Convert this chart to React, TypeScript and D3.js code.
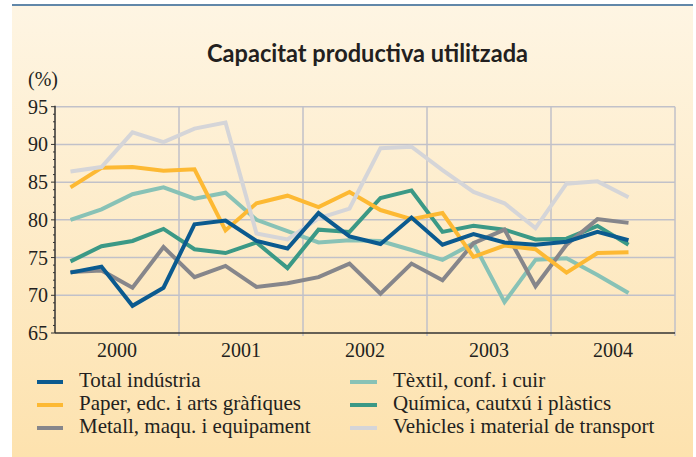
import { useMemo } from 'react'
import { scaleLinear, line } from 'd3'

// quarterly data 2000Q1 .. 2004Q3
const years = ['2000', '2001', '2002', '2003', '2004']
const yTicks = [65, 70, 75, 80, 85, 90, 95]

const total = [73.0, 73.8, 68.6, 71.0, 79.4, 79.9, 77.2, 76.2, 80.9, 77.8, 76.8, 80.3, 76.7, 78.1, 77.0, 76.7, 77.1, 78.4, 77.3]
const paper = [84.3, 86.9, 87.0, 86.5, 86.7, 78.6, 82.2, 83.2, 81.7, 83.7, 81.3, 80.1, 80.9, 75.1, 76.6, 76.1, 73.0, 75.6, 75.7]
const metall = [73.1, 73.3, 71.0, 76.4, 72.4, 73.9, 71.1, 71.6, 72.4, 74.2, 70.2, 74.2, 72.0, 76.9, 78.7, 71.2, 76.7, 80.1, 79.6]
const textil = [80.0, 81.4, 83.4, 84.3, 82.8, 83.6, 80.0, 78.5, 77.0, 77.3, 77.2, 76.0, 74.7, 76.9, 69.1, 74.7, 74.9, 72.7, 70.3]
const quimica = [74.5, 76.5, 77.2, 78.8, 76.1, 75.6, 77.0, 73.6, 78.7, 78.4, 82.9, 83.9, 78.4, 79.2, 78.7, 77.4, 77.5, 79.2, 76.7]
const vehicles = [86.4, 87.0, 91.6, 90.3, 92.1, 92.9, 78.2, 77.4, 80.2, 81.5, 89.5, 89.7, 86.6, 83.7, 82.2, 78.9, 84.8, 85.1, 83.0]

const series = [
  { name: 'Tèxtil, conf. i cuir', values: textil, color: '#88c2b6' },
  { name: 'Química, cautxú i plàstics', values: quimica, color: '#3b9986' },
  { name: 'Metall, maqu. i equipament', values: metall, color: '#86868b' },
  { name: 'Paper, edc. i arts gràfiques', values: paper, color: '#fdb933' },
  { name: 'Vehicles i material de transport', values: vehicles, color: '#d5d5d8' },
  { name: 'Total indústria', values: total, color: '#0b5a8f' },
]

// legend order (left column then right column)
const legendLeft = ['Total indústria', 'Paper, edc. i arts gràfiques', 'Metall, maqu. i equipament']
const legendRight = ['Tèxtil, conf. i cuir', 'Química, cautxú i plàstics', 'Vehicles i material de transport']

const W = 696
const H = 457
const serif = '"Liberation Serif", "Times New Roman", serif'

export default function App() {
  const x = useMemo(() => scaleLinear().domain([0, years.length * 4]).range([55, 675]), [])
  const y = useMemo(() => scaleLinear().domain([65, 95]).range([333, 106.7]), [])

  const path = line<number>()
    .x((_, i) => x(i + 0.5))
    .y(d => y(d))

  const colorOf = (n: string) => series.find(s => s.name === n)!.color
  const minor = []
  for (let v = 65; v <= 95; v++) minor.push(v)

  return (
    <svg width={W} height={H} style={{ position: 'absolute', left: 0, top: 0 }}>
      <defs>
        <linearGradient id="bg" x1="0" y1="0" x2="0" y2="1">
          <stop offset="0" stopColor="#fef5e3" />
          <stop offset="1" stopColor="#fde2ae" />
        </linearGradient>
      </defs>
      <rect width={W} height={H} fill="#fff" />
      <rect x={12} y={6} width={681} height={H - 6} fill="url(#bg)" />
      <line x1={12} x2={693} y1={5} y2={5} stroke="#2d5f8c" strokeWidth={1.5} />

      <text x={367.5} y={62} textAnchor="middle" fontFamily="Lato, 'Open Sans', sans-serif" fontWeight="bold"
        fontSize={25} fill="#231f20" textLength={321} lengthAdjust="spacingAndGlyphs">
        Capacitat productiva utilitzada
      </text>
      <text x={28} y={86} fontFamily={serif} fontSize={20} fill="#231f20">(%)</text>

      {/* grid */}
      {yTicks.slice(1).map(t => (
        <line key={t} x1={55} x2={675} y1={y(t)} y2={y(t)} stroke="#c1c1c9" strokeWidth={1.5} />
      ))}
      {years.map((yr, i) => (
        <line key={yr} x1={x((i + 1) * 4)} x2={x((i + 1) * 4)} y1={y(95)} y2={y(65) + 3} stroke="#c1c1c9" strokeWidth={1.5} />
      ))}

      {/* axes */}
      <line x1={55} x2={55} y1={y(95) - 1} y2={y(65)} stroke="#333" strokeWidth={1.5} />
      <line x1={55} x2={675} y1={y(65)} y2={y(65)} stroke="#333" strokeWidth={1.5} />
      {minor.map(v => (
        <line key={v} x1={v % 5 === 0 ? 51 : 53} x2={55} y1={y(v)} y2={y(v)} stroke="#333" strokeWidth={1} />
      ))}
      {yTicks.map(t => (
        <text key={t} x={48} y={y(t)} dy="0.35em" textAnchor="end" fontFamily={serif} fontSize={20} fill="#231f20">{t}</text>
      ))}
      {years.map((yr, i) => (
        <text key={yr} x={x(i * 4 + 2)} y={357} textAnchor="middle" fontFamily={serif} fontSize={20} fill="#231f20">{yr}</text>
      ))}

      {/* series */}
      {series.map(s => (
        <path key={s.name} d={path(s.values) ?? ''} fill="none" stroke={s.color} strokeWidth={4} strokeLinejoin="miter" />
      ))}

      {/* legend */}
      {legendLeft.map((n, i) => (
        <g key={n} transform={`translate(0,${382 + i * 23})`}>
          <line x1={37} x2={63} y1={0} y2={0} stroke={colorOf(n)} strokeWidth={4} />
          <text x={79} y={5} fontFamily={serif} fontSize={21} fill="#231f20">{n}</text>
        </g>
      ))}
      {legendRight.map((n, i) => (
        <g key={n} transform={`translate(0,${382 + i * 23})`}>
          <line x1={350} x2={377} y1={0} y2={0} stroke={colorOf(n)} strokeWidth={4} />
          <text x={393} y={5} fontFamily={serif} fontSize={21} fill="#231f20">{n}</text>
        </g>
      ))}
    </svg>
  )
}
